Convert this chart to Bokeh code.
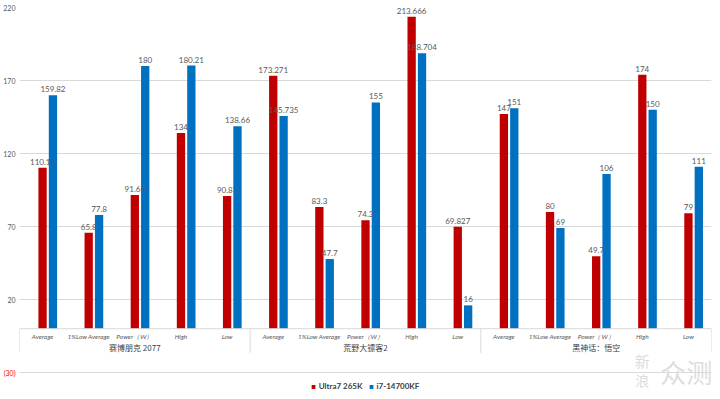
from bokeh.plotting import figure
from bokeh.models import (FactorRange, Range1d, ColumnDataSource, Span, Label,
                          Legend, LegendItem, FixedTicker, LinearAxis)
from bokeh.transform import dodge
from bokeh.core.properties import value
from bokeh.embed import file_html
from bokeh.resources import INLINE

# ---- data ----
games = ["赛博朋克 2077", "荒野大镖客2", "黑神话：悟空"]
metrics = ["Average", "1%Low Average", "Power（W）", "High", "Low"]
series_names = ["Ultra7 265K", "i7-14700KF"]
ultra7 = [110.17, 65.8, 91.66, 134, 90.87,
          173.271, 83.3, 74.3, 213.666, 69.827,
          147, 80, 49.7, 174, 79]
i7 = [159.82, 77.8, 180, 180.21, 138.66,
      145.735, 47.7, 155, 188.704, 16,
      151, 69, 106, 150, 111]
y_ticks = [-30, 20, 70, 120, 170, 220]
neg_label = "(30)"

RED = "#C00000"
BLUE = "#0070C0"
GRID = "#d9d9d9"
TXT = "#595959"
LAT = value("Lato")
CJK = value("Noto Sans CJK SC")

factors = [(g, m) for g in games for m in metrics]
x_range = FactorRange(factors=factors, group_padding=0, factor_padding=0,
                      range_padding=0)

p = figure(width=712, height=391, x_range=x_range,
           y_range=Range1d(-43, y_ticks[-1]),
           output_backend="svg", toolbar_location=None,
           x_axis_location=None,
           min_border_left=0, min_border_right=1, min_border_top=7,
           min_border_bottom=0)
p.outline_line_color = None
p.background_fill_color = "white"
p.border_fill_color = "white"

# y axis & grid
ax = p.yaxis[0]
ax.ticker = FixedTicker(ticks=[t for t in y_ticks if t >= 0])
ax.axis_line_color = None
ax.major_tick_line_color = None
ax.major_tick_out = 0
ax.major_tick_in = 0
ax.minor_tick_line_color = None
ax.major_label_text_font_size = "7px"
ax.major_label_text_color = TXT
ax.major_label_text_font = "Lato"
ax.major_label_standoff = 4

# second axis only for the negative tick, shown red in parentheses
neg_axis = LinearAxis(ticker=FixedTicker(ticks=[t for t in y_ticks if t < 0]),
                      major_label_overrides={t: neg_label for t in y_ticks if t < 0},
                      axis_line_color=None, major_tick_line_color=None,
                      major_tick_out=0, major_tick_in=0,
                      minor_tick_line_color=None,
                      major_label_text_font_size="7px",
                      major_label_text_color="#FF0000",
                      major_label_text_font="Lato",
                      major_label_standoff=-15)
p.add_layout(neg_axis, "left")

p.ygrid.ticker = FixedTicker(ticks=y_ticks)
p.ygrid.grid_line_color = GRID
p.xgrid.grid_line_color = None

# category axis at zero
p.add_layout(Span(location=0, dimension="width", line_color=GRID, line_width=1))
bounds = [i * len(metrics) for i in range(len(games) + 1)]
p.segment(x0=bounds, y0=0, x1=bounds, y1=-16.5, line_color=GRID, line_width=1)

src = ColumnDataSource(dict(
    x=factors, u=ultra7, i=i7,
    ul=[f"{v:g}" for v in ultra7], il=[f"{v:g}" for v in i7],
    m=[f[1] for f in factors], zero=[0] * len(factors)))

r1 = p.vbar(x=dodge("x", 0.0, range=p.x_range), top="u", width=0.18,
            source=src, fill_color=RED, line_color=None)
r2 = p.vbar(x=dodge("x", 0.225, range=p.x_range), top="i", width=0.18,
            source=src, fill_color=BLUE, line_color=None)

p.text(x=dodge("x", 0.0, range=p.x_range), y="u", text="ul", source=src,
       text_align="center", text_baseline="bottom", y_offset=-3,
       text_font_size="8px", text_color=TXT, text_font=LAT)
p.text(x=dodge("x", 0.225, range=p.x_range), y="i", text="il", source=src,
       text_align="center", text_baseline="bottom", y_offset=-3,
       text_font_size="8px", text_color=TXT, text_font=LAT)

# category labels
p.text(x="x", y="zero", text="m", source=src, text_align="center",
       text_baseline="middle", y_offset=8, text_font_size="6.5px",
       text_color=TXT, text_font=LAT, text_font_style="italic")
gsrc = ColumnDataSource(dict(x=[(g, metrics[len(metrics) // 2]) for g in games],
                             t=games, zero=[0] * len(games)))
p.text(x="x", y="zero", text="t", source=gsrc, text_align="center",
       text_baseline="middle", y_offset=19, text_font_size="8px",
       text_color="#404040", text_font=CJK)

# watermark
p.add_layout(Label(x=13.5, y=-22, text="新", text_font_size="15px",
                   text_color="#dddddd", text_font="Noto Sans CJK SC",
                   text_baseline="middle", text_align="center"))
p.add_layout(Label(x=13.5, y=-35, text="浪", text_font_size="14px",
                   text_color="#dddddd", text_font="Noto Sans CJK SC",
                   text_baseline="middle", text_align="center"))
p.add_layout(Label(x=14.45, y=-29, text="众测", text_font_size="26px",
                   text_color="#dddddd", text_font="Noto Sans CJK SC",
                   text_baseline="middle", text_align="center"))

legend = Legend(items=[LegendItem(label=series_names[0], renderers=[r1]),
                       LegendItem(label=series_names[1], renderers=[r2])],
                orientation="horizontal", location="bottom_center",
                label_text_font_size="8px", label_text_font="Lato",
                label_text_font_style="bold", label_text_color="#404040",
                glyph_width=5, glyph_height=5, label_standoff=3, spacing=6,
                padding=2, margin=0, border_line_color=None,
                background_fill_alpha=0, label_height=8)
p.add_layout(legend, "center")

open("out.html", "w").write(file_html(p, INLINE))
